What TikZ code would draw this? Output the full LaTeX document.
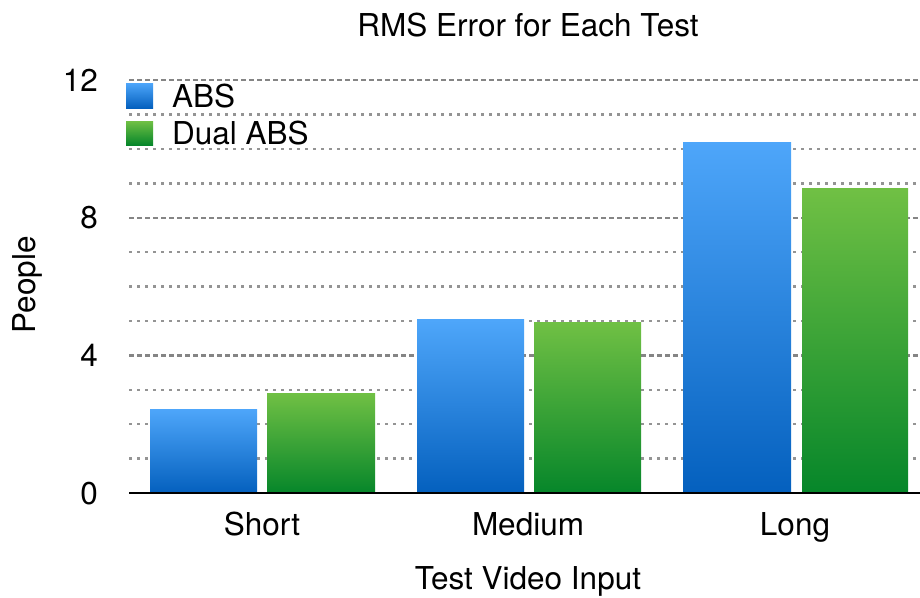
\documentclass[tikz,border=0pt]{standalone}
\usepackage{fontspec}
\setmainfont{TeX Gyre Heros}
\begin{document}
\begin{tikzpicture}[x=1pt,y=-1pt,
  lbl/.style={inner sep=0pt,font=\fontsize{31.5}{36}\selectfont},
  minorgrid/.style={draw=black!42,line width=2.5pt,dash pattern=on 2.5pt off 5.5pt},
  majorgrid/.style={draw=black!48,line width=2.2pt,dash pattern=on 5pt off 3pt},
  absbar/.style={top color={rgb,255:red,78;green,166;blue,250},bottom color={rgb,255:red,4;green,96;blue,190}},
  dualbar/.style={top color={rgb,255:red,112;green,192;blue,68},bottom color={rgb,255:red,6;green,134;blue,42}}]
\useasboundingbox (0,0) rectangle (920,597);
% value axis: 0 at y=493, 34.4 per unit
\def\yz{493}\def\yu{34.4}
% grid lines
\foreach \v in {1,2,3,5,6,7,9,10,11}
  \draw[minorgrid] (129,{\yz-\v*\yu}) -- (920,{\yz-\v*\yu});
\foreach \v in {4,8,12}
  \draw[majorgrid] (129,{\yz-\v*\yu}) -- (920,{\yz-\v*\yu});
% bars
\fill[absbar]  (150,\yz) rectangle (257,{\yz-2.44*\yu});
\fill[dualbar] (267,\yz) rectangle (375,{\yz-2.90*\yu});
\fill[absbar]  (417,\yz) rectangle (524,{\yz-5.03*\yu});
\fill[dualbar] (534,\yz) rectangle (641,{\yz-4.97*\yu});
\fill[absbar]  (683,\yz) rectangle (791,{\yz-10.20*\yu});
\fill[dualbar] (802,\yz) rectangle (908,{\yz-8.84*\yu});
% base axis
\draw[line width=2.6pt] (129,\yz) -- (920,\yz);
% tick labels
\foreach \v/\n in {0/t0,4/t4,8/t8,12/t12}
  \node[lbl,anchor=base east] (\n) at (98,{\yz-\v*\yu+11}) {\v};
% category labels
\node[lbl,anchor=base] (cshort) at (262,535) {Short};
\node[lbl,anchor=base] (cmedium) at (528,535) {Medium};
\node[lbl,anchor=base] (clong) at (795,535) {Long};
% titles
\node[lbl,anchor=base] (title) at (528,36) {RMS Error for Each Test};
\node[lbl,anchor=base] (xtitle) at (528,589) {Test Video Input};
\node[lbl,anchor=base,rotate=90] (ytitle) at (35,285) {People};
% legend
\fill[absbar]  (126,83) rectangle (153,108);
\fill[dualbar] (126,121) rectangle (153,145);
\node[lbl,anchor=base west] (legabs) at (172,107) {ABS};
\node[lbl,anchor=base west] (legdual) at (172,144) {Dual ABS};
\end{tikzpicture}
\end{document}
